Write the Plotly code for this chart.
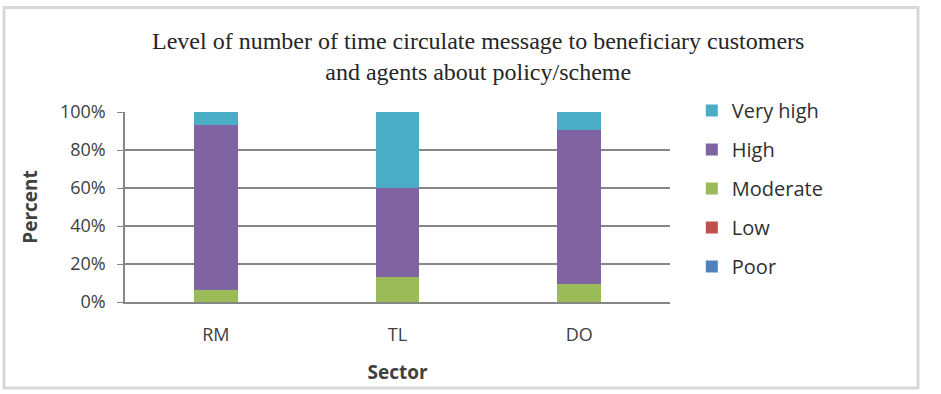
import plotly.graph_objects as go

sectors = ["RM", "TL", "DO"]
poor = [0, 0, 0]
low = [0, 0, 0]
moderate = [6.5, 13, 9.5]
high = [86.5, 47, 81]
very_high = [7, 40, 9.5]

title_text = ("Level of number of time circulate message to beneficiary customers"
              "<br>and agents about policy/scheme")

series = [
    ("Poor", poor, "#4F81BD"),
    ("Low", low, "#C0504D"),
    ("Moderate", moderate, "#9BBB59"),
    ("High", high, "#8064A2"),
    ("Very high", very_high, "#4BACC6"),
]

fig = go.Figure()
for i, (name, vals, col) in enumerate(series):
    fig.add_trace(go.Bar(x=sectors, y=[v / 100 for v in vals], name=name,
                         marker=dict(color=col, line=dict(width=0)),
                         legendgroup=name, legendrank=len(series) - i))

fig.update_layout(
    width=941, height=394,
    barmode="stack", bargap=0.76,
    paper_bgcolor="white", plot_bgcolor="white",
    margin=dict(l=125, r=271, t=112, b=92),
    font=dict(family="Open Sans, Liberation Sans, sans-serif", color="#404040", size=17),
    annotations=[dict(text=title_text, xref="paper", yref="paper",
                      x=0.648, y=1.29, xanchor="center", yanchor="middle",
                      showarrow=False, align="center",
                      font=dict(family="Liberation Serif, Times New Roman, serif",
                                size=24, color="#262626"))],
    legend=dict(x=1.04, y=1.11, xanchor="left", yanchor="top",
                traceorder="grouped", tracegroupgap=10,
                font=dict(size=20, color="#303030"), itemwidth=30),
    showlegend=True,
    shapes=[dict(type="rect", xref="paper", yref="paper",
                 x0=-0.222, x1=1.455, y0=-0.453, y1=1.55,
                 line=dict(color="#d8d8d8", width=3), layer="below")],
)
fig.update_xaxes(showline=True, linecolor="#868686", linewidth=1.5,
                 ticklabelstandoff=16,
                 title=dict(text="<b>Sector</b>", font=dict(size=19, color="#404040"), standoff=20),
                 tickfont=dict(size=18, color="#404040"))
fig.update_yaxes(range=[0, 1], tickformat=".0%", dtick=0.2,
                 showgrid=True, gridcolor="#868686", gridwidth=1.5,
                 showline=True, linecolor="#868686", linewidth=1.5,
                 ticks="outside", ticklen=6, tickcolor="#868686",
                 ticklabelstandoff=8,
                 tickfont=dict(size=18, color="#404040"),
                 title=dict(text="<b>Percent</b>", font=dict(size=19, color="#404040"), standoff=17),
                 zeroline=False)

fig.write_html("out.html")
